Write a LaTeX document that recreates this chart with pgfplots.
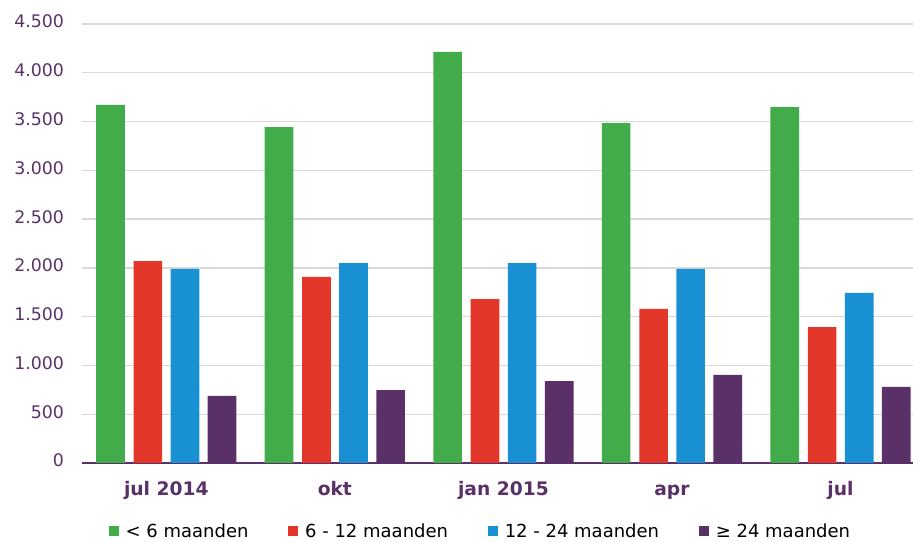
\documentclass[border=0pt]{standalone}
\usepackage{pgfplots}
\pgfplotsset{compat=1.18}
\usepackage{fontspec}
\setmainfont{DejaVu Sans}
\definecolor{cgreen}{HTML}{43AC4A}
\definecolor{cred}{HTML}{E3372A}
\definecolor{cblue}{HTML}{1990D2}
\definecolor{cpurple}{HTML}{5A3068}
\definecolor{cgrid}{HTML}{D9D9D9}
\begin{document}
\begin{tikzpicture}
\begin{axis}[
  name=ax,
  scale only axis,
  width=623.25pt, height=329.25pt,
  xmin=-0.5, xmax=4.43,
  ymin=0, ymax=4500,
  ytick={0,500,...,4500},
  xtick=data,
  xticklabels={jul 2014,okt,jan 2015,apr,jul},
  typeset ticklabels with strut,
  x tick label style={font=\fontsize{14}{16}\selectfont\bfseries, text=cpurple, yshift=-10pt},
  y tick label style={font=\fontsize{13}{15}\selectfont, text=cpurple, xshift=-10pt},
  /pgf/number format/assume math mode=true,
  /pgf/number format/.cd, 1000 sep={.}, /pgfplots/.cd,
  ymajorgrids, grid style={cgrid, line width=1pt},
  major tick length=0pt,
  axis x line*=bottom, axis y line*=left,
  x axis line style={cpurple, line width=1.5pt, -},
  y axis line style={draw=none},
  ybar, bar width=0.17,
  legend style={at={(0.48,-0.125)}, anchor=north, draw=none,
    font=\fontsize{13.5}{15}\selectfont, legend columns=-1,
    /tikz/every odd column/.append style={column sep=3pt},
    /tikz/every even column/.append style={column sep=28pt}},
  legend image code/.code={\fill[#1] (0pt,-3.75pt) rectangle (7.5pt,3.75pt);},
]
% < 6 maanden
\addplot[fill=cgreen, draw=none, bar shift=-0.331] coordinates {
  (0,3670) (1,3444) (2,4213) (3,3485) (4,3649)};
% 6 - 12 maanden
\addplot[fill=cred, draw=none, bar shift=-0.109] coordinates {
  (0,2070) (1,1907) (2,1681) (3,1579) (4,1394)};
% 12 - 24 maanden
\addplot[fill=cblue, draw=none, bar shift=0.111] coordinates {
  (0,1990) (1,2050) (2,2050) (3,1990) (4,1743)};
% >= 24 maanden
\addplot[fill=cpurple, draw=none, bar shift=0.331] coordinates {
  (0,687) (1,748) (2,840) (3,902) (4,779)};
\legend{< 6 maanden, 6 - 12 maanden, 12 - 24 maanden, ≥ 24 maanden}
\end{axis}
\pgfresetboundingbox
\path[use as bounding box] ([shift={(-61.5pt,-59.25pt)}]ax.south west) rectangle ([shift={(0pt,18pt)}]ax.north east);
\end{tikzpicture}
\end{document}
